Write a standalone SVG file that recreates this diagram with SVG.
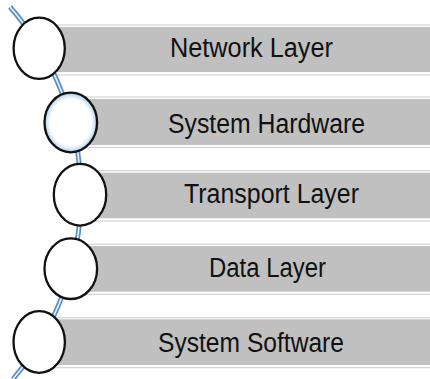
<svg xmlns="http://www.w3.org/2000/svg" width="430" height="379" viewBox="0 0 430 379">
  <defs>
    <style>
      .frame { fill: #ffffff; stroke: #d2d2d2; stroke-width: 1.2; }
      .bar { fill: #c0c0c0; }
      .label { font-family: "Liberation Sans", Arial, sans-serif; font-size: 27px; fill: #111111; }
      .ring { fill: #ffffff; stroke: #111111; stroke-width: 2.3; }
      .wire-outer { fill: none; stroke: #5b8fc4; stroke-width: 5; stroke-linecap: butt; }
      .wire-inner { fill: none; stroke: #e8f0f8; stroke-width: 1.6; stroke-linecap: butt; }
    </style>
    <radialGradient id="glow" cx="0.5" cy="0.5" r="0.5">
      <stop offset="0.78" stop-color="#ffffff"/>
      <stop offset="0.93" stop-color="#c9def2"/>
      <stop offset="1" stop-color="#6fa3d6"/>
    </radialGradient>
  </defs>

  <rect width="430" height="379" fill="#ffffff"/>

  <!-- layer bars -->
  <g id="bar-network">
    <rect class="frame" x="39" y="25" width="400" height="50"/>
    <rect class="bar" x="39" y="27" width="400" height="45"/>
  </g>
  <g id="bar-hardware">
    <rect class="frame" x="70" y="97" width="370" height="50.5"/>
    <rect class="bar" x="70" y="99" width="370" height="46"/>
  </g>
  <g id="bar-transport">
    <rect class="frame" x="80" y="170.7" width="360" height="50.3"/>
    <rect class="bar" x="80" y="172.7" width="360" height="45.6"/>
  </g>
  <g id="bar-data">
    <rect class="frame" x="70" y="244.3" width="370" height="50"/>
    <rect class="bar" x="70" y="246" width="370" height="45.7"/>
  </g>
  <g id="bar-software">
    <rect class="frame" x="39" y="317.7" width="400" height="50"/>
    <rect class="bar" x="39" y="319.3" width="400" height="45.7"/>
  </g>

  <!-- connector arc threading the rings -->
  <g id="connectors">
    <path class="wire-outer" d="M 10 7 A 284 284 0 0 1 13 379"/>
    <path class="wire-inner" d="M 10 7 A 284 284 0 0 1 13 379"/>
  </g>

  <!-- rings and labels -->
  <g id="network-layer">
    <ellipse class="ring" cx="39.2" cy="48.3" rx="25.6" ry="30.6"/>
    <text class="label" x="170" y="56.7" textLength="163" lengthAdjust="spacingAndGlyphs">Network Layer</text>
  </g>
  <g id="system-hardware">
    <ellipse class="ring" cx="70.8" cy="122.5" rx="26.3" ry="29.8" style="fill:url(#glow)"/>
    <text class="label" x="168" y="133" textLength="197" lengthAdjust="spacingAndGlyphs">System Hardware</text>
  </g>
  <g id="transport-layer">
    <ellipse class="ring" cx="80" cy="194.7" rx="26.2" ry="30.9"/>
    <text class="label" x="184" y="203" textLength="175" lengthAdjust="spacingAndGlyphs">Transport Layer</text>
  </g>
  <g id="data-layer">
    <ellipse class="ring" cx="70.8" cy="268.7" rx="26.3" ry="30.3"/>
    <text class="label" x="209" y="277" textLength="117" lengthAdjust="spacingAndGlyphs">Data Layer</text>
  </g>
  <g id="system-software">
    <ellipse class="ring" cx="39.2" cy="342" rx="25.7" ry="30.9"/>
    <text class="label" x="158" y="352" textLength="186" lengthAdjust="spacingAndGlyphs">System Software</text>
  </g>
</svg>
